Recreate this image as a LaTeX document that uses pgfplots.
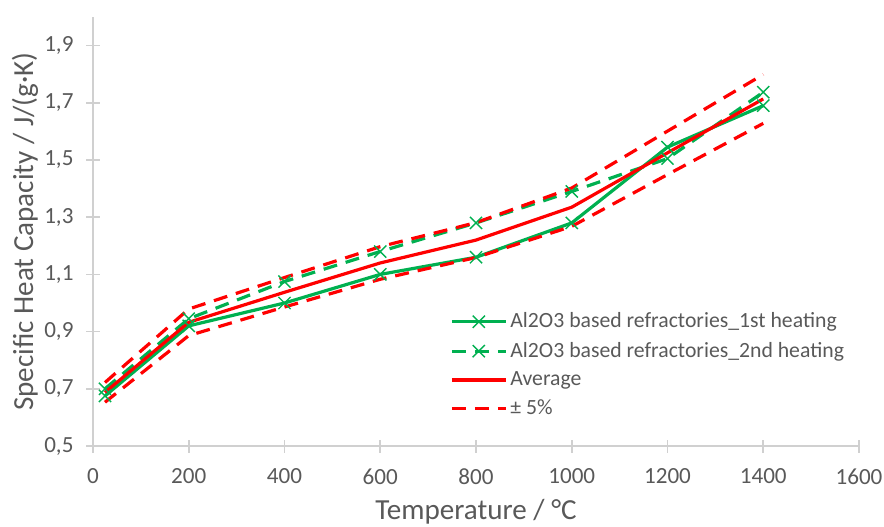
\documentclass[border=0pt]{standalone}
\usepackage{fontspec}
\setmainfont{Carlito}
\usepackage{pgfplots}
\pgfplotsset{compat=1.18}

\definecolor{xlgreen}{HTML}{00B050}
\definecolor{xlred}{HTML}{FF0000}
\definecolor{ticktext}{HTML}{595959}
\definecolor{axisgray}{HTML}{D0D0D0}

\begin{document}
\begin{tikzpicture}
\useasboundingbox (-46.5bp,-40.5bp) rectangle (395.5bp,223bp);
\begin{axis}[
    scale only axis,
    width=383bp, height=214.5bp,
    xmin=0, xmax=1600, ymin=0.5, ymax=2.0,
    xtick={0,200,...,1600},
    ytick={0.5,0.7,0.9,1.1,1.3,1.5,1.7,1.9},
    axis x line*=bottom, axis y line*=left,
    axis line style={axisgray, line width=0.8bp, -},
    tick style={axisgray, line width=0.8bp},
    tick align=center, major tick length=6.5bp,
    yticklabel style={xshift=-3bp, /pgf/number format/.cd, use comma, fixed, fixed zerofill, precision=1},
    xticklabel style={yshift=-4.5bp, /pgf/number format/.cd, 1000 sep={}},
    /pgf/number format/assume math mode=true,
    ticklabel style={font=\fontsize{11.6}{13}\selectfont, text=ticktext},
    xlabel={Temperature / °C},
    ylabel={Specific Heat Capacity / J/(g·K)},
    label style={font=\fontsize{14.6}{16}\selectfont, text=ticktext},
    xlabel style={at={(axis description cs:0.5,-0.154)}, anchor=center},
    ylabel style={at={(axis description cs:-0.0888,0.5)}, anchor=center},
    legend style={at={(axis description cs:0.458,0.328)}, anchor=north west, draw=none, fill=none,
        font=\fontsize{10.9}{12}\selectfont, text=ticktext, row sep=2.7bp,
        nodes={inner sep=1.5bp}},
    legend cell align=left,
    legend image code/.code={\draw[#1] (0bp,0bp) -- (27bp,0bp); \draw[#1, solid] plot coordinates {(13.5bp,0bp)};},
    every axis plot/.append style={line width=1.6bp},
]
\addplot[xlgreen, mark=x, mark size=4.3bp, mark options={line width=0.7bp, solid}] coordinates {
 (25,0.675) (200,0.92) (400,1.00) (600,1.10) (800,1.16) (1000,1.28) (1200,1.545) (1400,1.69)};
\addlegendentry{Al2O3 based refractories\_1st heating}
\addplot[xlgreen, dash pattern=on 7bp off 4.5bp, mark=x, mark size=4.3bp, mark options={line width=0.7bp, solid}] coordinates {
 (25,0.70) (200,0.945) (400,1.075) (600,1.18) (800,1.28) (1000,1.39) (1200,1.505) (1400,1.737)};
\addlegendentry{Al2O3 based refractories\_2nd heating}
\addplot[xlred] coordinates {
 (25,0.6875) (200,0.9325) (400,1.0375) (600,1.14) (800,1.22) (1000,1.335) (1200,1.525) (1400,1.7135)};
\addlegendentry{Average}
\addplot[xlred, dash pattern=on 7bp off 4.5bp] coordinates {
 (25,0.722) (200,0.979) (400,1.089) (600,1.197) (800,1.281) (1000,1.402) (1200,1.601) (1400,1.799)};
\addlegendentry{± 5\%}
\addplot[xlred, dash pattern=on 7bp off 4.5bp, forget plot] coordinates {
 (25,0.653) (200,0.886) (400,0.986) (600,1.083) (800,1.159) (1000,1.268) (1200,1.449) (1400,1.628)};
\end{axis}
\end{tikzpicture}
\end{document}
